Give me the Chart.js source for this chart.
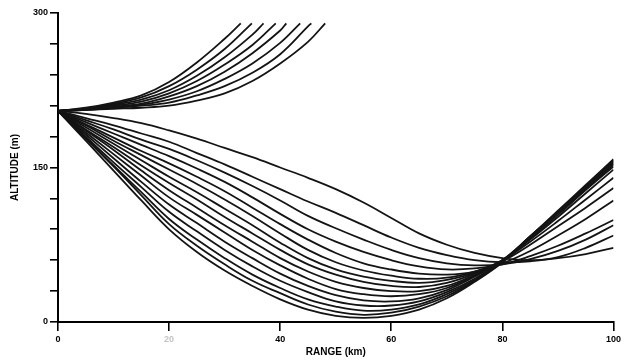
<!DOCTYPE html>
<html>
<head>
<meta charset="utf-8">
<script src="https://cdn.jsdelivr.net/npm/chart.js@4/dist/chart.umd.min.js"></script>
<style>
  html, body { margin: 0; padding: 0; background: #fff; }
  #wrap { width: 624px; height: 364px; }
</style>
</head>
<body>
<div id="wrap"><canvas id="c" width="624" height="364"></canvas></div>
<script>
// Range samples (km) shared by the downward-launched rays
const rangeKm = [0, 5, 10, 15, 20, 25, 30, 35, 40, 45, 50, 55, 60, 65, 70, 75, 80, 85, 90, 95, 100];

// Downward-launched rays, altitude (m), shallowest to steepest
const down01 = [205, 202, 198, 193, 186, 178, 169, 160, 150, 140, 129, 116, 101, 86, 75, 67, 62, 60, 62, 66, 72];
const down02 = [205, 198, 191, 183, 175, 164, 153, 141, 129, 117, 106, 94, 82, 72, 65, 60, 58, 59, 63, 72, 84];
const down03 = [205, 196, 187, 177, 168, 157, 145, 132, 118, 103, 91, 80, 70, 62, 57, 55, 56, 61, 69, 80, 94];
const down04 = [205, 194, 183, 172, 161, 149, 136, 121, 105, 90, 78, 68, 60, 54, 51, 52, 56, 64, 74, 86, 99];
const down05 = [205, 192, 179, 166, 154, 141, 127, 111, 95, 80, 67, 57, 51, 47, 46, 49, 57, 69, 84, 100, 118];
const down06 = [205, 191, 176, 162, 148, 134, 119, 103, 86, 70, 58, 50, 45, 42, 43, 49, 59, 75, 93, 111, 130];
const down07 = [205, 189, 173, 157, 141, 126, 110, 94, 77, 62, 51, 44, 40, 38, 41, 48, 60, 78, 98, 119, 140];
const down08 = [205, 187, 170, 152, 135, 119, 102, 86, 70, 56, 46, 39, 35, 34, 38, 47, 60, 80, 102, 125, 148];
const down09 = [205, 186, 167, 147, 128, 111, 94, 78, 62, 49, 39, 33, 30, 30, 35, 46, 60, 81, 104, 128, 151];
const down10 = [205, 184, 163, 142, 121, 104, 87, 70, 55, 42, 32, 27, 25, 27, 33, 45, 60, 82, 106, 129, 153];
const down11 = [205, 182, 159, 136, 114, 96, 78, 62, 47, 35, 26, 21, 20, 23, 31, 44, 60, 83, 106, 130, 154];
const down12 = [205, 180, 155, 131, 107, 88, 70, 54, 40, 29, 20, 16, 16, 20, 29, 42, 59, 83, 107, 131, 155];
const down13 = [205, 179, 152, 126, 100, 80, 62, 46, 33, 22, 15, 11, 12, 17, 27, 41, 59, 83, 107, 131, 156];
const down14 = [205, 178, 151, 123, 95, 74, 56, 40, 28, 17, 10, 7, 9, 15, 25, 40, 58, 82, 107, 132, 157];
const down15 = [205, 176, 147, 118, 90, 68, 50, 35, 22, 12, 6, 4, 6, 12, 23, 39, 58, 83, 108, 133, 158];

// Upward-launched rays: range (km) and altitude (m), steepest first
const up1Range = [0, 5, 10, 15, 20, 25, 30, 32.9];
const up1Alt   = [205, 208, 213, 220, 233, 252, 275, 290];
const up2Range = [0, 5, 10, 15, 20, 25, 30, 34.9];
const up2Alt   = [205, 207.5, 212, 218, 229, 245, 265, 290];
const up3Range = [0, 5, 10, 15, 20, 25, 30, 35, 37];
const up3Alt   = [205, 207, 211, 216, 225, 239, 257, 279, 290];
const up4Range = [0, 5, 10, 15, 20, 25, 30, 35, 39.2];
const up4Alt   = [205, 207, 210, 214, 222, 234, 250, 269, 290];
const up5Range = [0, 5, 10, 15, 20, 25, 30, 35, 40, 41.1];
const up5Alt   = [205, 206.5, 209, 212, 219, 229, 243, 261, 283, 290];
const up6Range = [0, 5, 10, 15, 20, 25, 30, 35, 40, 43.6];
const up6Alt   = [205, 206, 208, 211, 216, 224, 236, 251, 271, 290];
const up7Range = [0, 5, 10, 15, 20, 25, 30, 35, 40, 45, 45.6];
const up7Alt   = [205, 206, 208, 210, 213, 220, 229, 242, 260, 287, 290];
const up8Range = [0, 5, 10, 15, 20, 25, 30, 35, 40, 45, 48.1];
const up8Alt   = [205, 206, 207, 208, 210, 215, 222, 234, 251, 272, 290];

// Axis ticks
const rangeTicks = [0, 20, 40, 60, 80, 100];
const altitudeLabels = [0, 150, 300];

const downRays = [down01, down02, down03, down04, down05, down06, down07, down08,
                  down09, down10, down11, down12, down13, down14, down15];
const upRays = [[up1Range, up1Alt], [up2Range, up2Alt], [up3Range, up3Alt], [up4Range, up4Alt],
                [up5Range, up5Alt], [up6Range, up6Alt], [up7Range, up7Alt], [up8Range, up8Alt]];

function rayDataset(xs, ys) {
  return {
    data: xs.map((x, i) => ({ x: x, y: ys[i] })),
    borderColor: '#141414',
    borderWidth: 1.8,
    pointRadius: 0,
    fill: false,
    tension: 0.4
  };
}

const datasets = [];
downRays.forEach(r => datasets.push(rayDataset(rangeKm, r)));
upRays.forEach(([xs, ys]) => datasets.push(rayDataset(xs, ys)));

const tickFont = { family: 'Liberation Sans, Arial, sans-serif', size: 9, weight: 'bold' };
const titleFont = { family: 'Liberation Sans, Arial, sans-serif', size: 10, weight: 'bold' };

new Chart(document.getElementById('c'), {
  type: 'line',
  data: { datasets: datasets },
  options: {
    responsive: false,
    animation: false,
    layout: { padding: { top: 13, right: 7, left: 0, bottom: 0 } },
    plugins: { legend: { display: false }, tooltip: { enabled: false } },
    scales: {
      x: {
        type: 'linear',
        min: 0, max: 100,
        afterFit: s => { s.height = 42; },
        afterBuildTicks: s => { s.ticks = rangeTicks.map(v => ({ value: v })); },
        ticks: {
          font: tickFont,
          padding: 3,
          maxRotation: 0,
          color: c => (c.tick && c.tick.value === 20) ? '#c4c4c4' : '#000'
        },
        grid: { drawOnChartArea: false, color: '#000', lineWidth: 1.6, tickLength: 9 },
        border: { display: true, color: '#000', width: 2 },
        title: { display: true, text: 'RANGE (km)', font: titleFont, color: '#000', padding: { top: 0, bottom: 6 } }
      },
      y: {
        type: 'linear',
        min: 0, max: 300,
        afterFit: s => { s.width = 58; },
        ticks: {
          stepSize: 30,
          font: tickFont,
          padding: 2,
          color: '#000',
          callback: v => altitudeLabels.includes(v) ? String(v) : ''
        },
        grid: { drawOnChartArea: false, color: '#000', lineWidth: 1.6, tickLength: 8 },
        border: { display: true, color: '#000', width: 2 },
        title: { display: true, text: 'ALTITUDE (m)', font: titleFont, color: '#000', padding: { top: 9, bottom: 0 } }
      }
    }
  }
});
</script>
</body>
</html>
